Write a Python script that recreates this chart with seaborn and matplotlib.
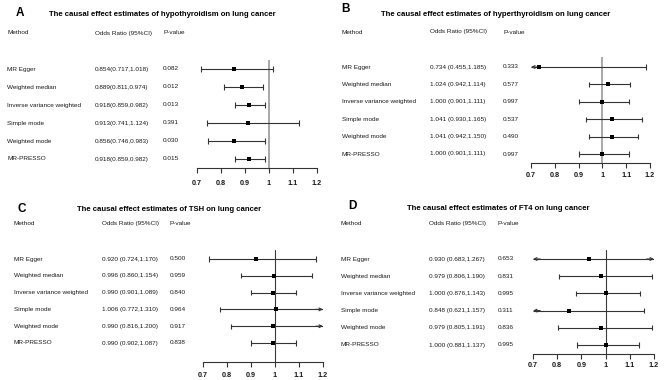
import numpy as np
import pandas as pd
import matplotlib
matplotlib.use("Agg")
import matplotlib.pyplot as plt
import matplotlib.transforms as mtrans
import seaborn as sns

# ---------------- data ----------------
methods = ["MR Egger", "Weighted median", "Inverse variance weighted",
           "Simple mode", "Weighted mode", "MR-PRESSO"]

titles = {
    "A": "The causal effect estimates of hypothyroidism on lung cancer",
    "B": "The causal effect estimates of hyperthyroidism on lung cancer",
    "C": "The causal effect estimates of TSH on lung cancer",
    "D": "The causal effect estimates of FT4 on lung cancer",
}

or_A = [0.854, 0.889, 0.918, 0.913, 0.856, 0.918]
lo_A = [0.717, 0.811, 0.859, 0.741, 0.746, 0.859]
hi_A = [1.018, 0.974, 0.982, 1.124, 0.983, 0.982]
p_A = ["0.082", "0.012", "0.013", "0.391", "0.030", "0.015"]

or_B = [0.734, 1.024, 1.000, 1.041, 1.041, 1.000]
lo_B = [0.455, 0.942, 0.901, 0.930, 0.942, 0.901]
hi_B = [1.185, 1.114, 1.111, 1.165, 1.150, 1.111]
p_B = ["0.333", "0.577", "0.997", "0.537", "0.490", "0.997"]

or_C = [0.920, 0.996, 0.990, 1.006, 0.990, 0.990]
lo_C = [0.724, 0.860, 0.901, 0.772, 0.816, 0.902]
hi_C = [1.170, 1.154, 1.089, 1.310, 1.200, 1.087]
p_C = ["0.500", "0.959", "0.840", "0.964", "0.917", "0.838"]

or_D = [0.930, 0.979, 1.000, 0.848, 0.979, 1.000]
lo_D = [0.683, 0.806, 0.876, 0.621, 0.805, 0.881]
hi_D = [1.267, 1.190, 1.143, 1.157, 1.191, 1.137]
p_D = ["0.653", "0.831", "0.995", "0.311", "0.836", "0.995"]

xticks = [0.7, 0.8, 0.9, 1.0, 1.1, 1.2]
xtick_labels = ["0.7", "0.8", "0.9", "1", "1.1", "1.2"]
header = ["Method", "Odds Ratio (95%CI)", "P-value"]

# ---------------- layout (pixels) ----------------
W, H = 669, 380
layout = {
    "A": dict(letter=(20, 12.5), title=(162, 15), head_y=33, cols=(7, 95, 163),
              rows=(69, 159), axis_y=168, top=60, x0=197, x1=317, sep="",
              vcol="#a8a8a8", vlw=1.4, lab_pad=5),
    "B": dict(letter=(345.5, 8.5), title=(496, 15), head_y=32, cols=(342, 430, 503),
              rows=(67, 154), axis_y=163, top=57, x0=531, x1=650, sep=" ",
              vcol="#a8a8a8", vlw=1.4, lab_pad=3),
    "C": dict(letter=(22, 209), title=(169, 209), head_y=224, cols=(14, 102, 170),
              rows=(259, 343), axis_y=362, top=250, x0=203, x1=323, sep=" ",
              vcol="#3a3a3a", vlw=0.8, lab_pad=3.5),
    "D": dict(letter=(352, 206), title=(498, 208), head_y=224, cols=(341, 429, 498),
              rows=(259, 345), axis_y=354, top=250, x0=533, x1=654, sep=" ",
              vcol="#3a3a3a", vlw=0.8, lab_pad=2.5),
}
data = {"A": (or_A, lo_A, hi_A, p_A), "B": (or_B, lo_B, hi_B, p_B),
        "C": (or_C, lo_C, hi_C, p_C), "D": (or_D, lo_D, hi_D, p_D)}

sns.set_theme(style="white")
plt.rcParams["font.family"] = ["Liberation Sans", "DejaVu Sans"]

fig = plt.figure(figsize=(W / 100, H / 100), dpi=100)
fig.patch.set_facecolor("white")

TXT = "#1a1a1a"
LINE = "#333333"
FS = 4.6
XMIN, XMAX = 0.7, 1.2

for key in ["A", "B", "C", "D"]:
    L = layout[key]
    ors, los, his, ps = data[key]
    n = len(methods)
    r0, r1 = L["rows"]
    spacing = (r1 - r0) / (n - 1)
    pad_top = (r0 - L["top"]) / spacing
    pad_bot = (L["axis_y"] - r1) / spacing

    ax = fig.add_axes([L["x0"] / W, (H - L["axis_y"]) / H,
                       (L["x1"] - L["x0"]) / W, (L["axis_y"] - L["top"]) / H])
    ax.set_facecolor("none")

    df = pd.DataFrame({"method": methods, "or": ors, "lo": los, "hi": his,
                       "y": np.arange(n)})

    # reference line
    ax.axvline(1.0, color=L["vcol"], lw=L["vlw"], zorder=1)

    for _, r in df.iterrows():
        a = max(r["lo"], XMIN)
        b = min(r["hi"], XMAX)
        ax.hlines(r["y"], a, b, color=LINE, lw=0.8, zorder=2)
        if r["lo"] < XMIN:
            ax.annotate("", xy=(XMIN, r["y"]), xytext=(XMIN + 0.03, r["y"]),
                        arrowprops=dict(arrowstyle="->", lw=0.8, color=LINE,
                                        shrinkA=0, shrinkB=0,
                                        mutation_scale=5), zorder=2)
        else:
            ax.vlines(a, r["y"] - 0.15, r["y"] + 0.15, color=LINE, lw=0.8, zorder=2)
        if r["hi"] >= XMAX:
            ax.annotate("", xy=(XMAX, r["y"]), xytext=(XMAX - 0.03, r["y"]),
                        arrowprops=dict(arrowstyle="->", lw=0.8, color=LINE,
                                        shrinkA=0, shrinkB=0,
                                        mutation_scale=5), zorder=2)
        else:
            ax.vlines(b, r["y"] - 0.15, r["y"] + 0.15, color=LINE, lw=0.8, zorder=2)

    sns.scatterplot(data=df, x="or", y="y", marker="s", color="black", s=10,
                    linewidth=0, ax=ax, zorder=3, legend=False)
    ax.set_xlim(XMIN, XMAX)
    ax.set_ylim(n - 1 + pad_bot, -pad_top)

    for s in ["top", "right", "left"]:
        ax.spines[s].set_visible(False)
    ax.spines["bottom"].set_color(LINE)
    ax.spines["bottom"].set_linewidth(0.8)
    ax.set_yticks([])
    ax.set_xticks(xticks)
    ax.set_xticklabels(xtick_labels, fontweight="bold")
    ax.tick_params(axis="x", direction="out", length=3.5, width=0.8, color=LINE,
                   labelsize=5.2, labelcolor=TXT, pad=L["lab_pad"], bottom=True)
    ax.set_xlabel("")
    ax.set_ylabel("")

    # table text, y in data coordinates, x in figure pixels
    tr = mtrans.blended_transform_factory(fig.transFigure, ax.transData)
    cM, cO, cP = L["cols"]
    for _, r in df.iterrows():
        ci = f"{r['or']:.3f}{L['sep']}({r['lo']:.3f},{r['hi']:.3f})"
        ax.text(cM / W, r["y"], r["method"], transform=tr, fontsize=FS,
                color=TXT, va="center", ha="left", clip_on=False)
        ax.text(cO / W, r["y"], ci, transform=tr, fontsize=FS,
                color=TXT, va="center", ha="left", clip_on=False)
    for i, pv in enumerate(ps):
        ax.text(cP / W, i, pv, transform=tr, fontsize=FS, color=TXT,
                va="center", ha="left", clip_on=False)

    hy = 1 - L["head_y"] / H
    fig.text(cM / W, hy, header[0], fontsize=FS, color=TXT, va="center", ha="left")
    fig.text(cO / W, hy, header[1], fontsize=FS, color=TXT, va="center", ha="left")
    fig.text(cP / W, hy, header[2], fontsize=FS, color=TXT, va="center", ha="left")

    tx, ty = L["title"]
    fig.text(tx / W, 1 - ty / H, titles[key], fontsize=5.6, fontweight="bold",
             color="black", va="center", ha="center")
    lx, ly = L["letter"]
    fig.text(lx / W, 1 - ly / H, key, fontsize=8.5, fontweight="bold",
             color="black", va="center", ha="center")

fig.savefig("out.png", dpi=100, facecolor="white")
